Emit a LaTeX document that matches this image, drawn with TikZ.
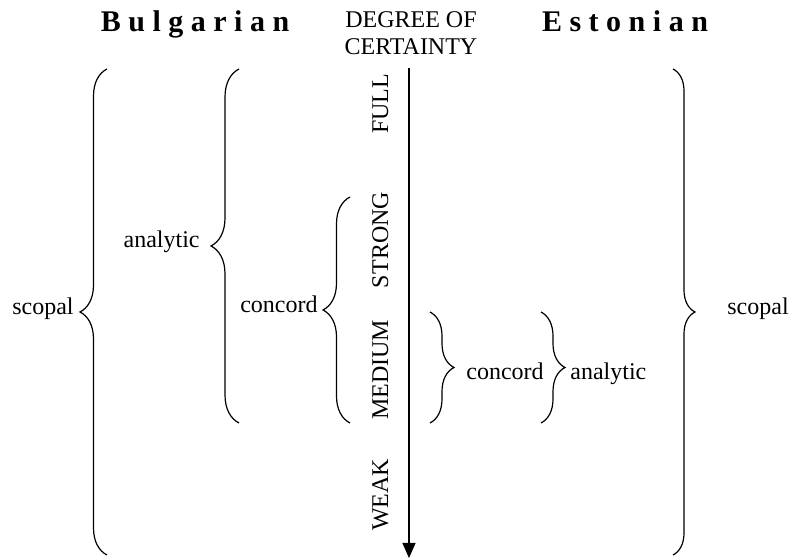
\documentclass[tikz,border=0pt]{standalone}
\usepackage{fontspec}
\setmainfont{Liberation Serif}
\usetikzlibrary{positioning, calc, decorations.pathreplacing, arrows.meta}

\begin{document}
\begin{tikzpicture}[x=0.5pt, y=-0.5pt, lbl/.style={font=\fontsize{12}{13.5}\selectfont, inner sep=0pt}, lang/.style={font=\fontsize{15}{18}\selectfont\bfseries, inner sep=0pt, anchor=base}, level/.style={lbl, rotate=90, anchor=base}, brc/.style={decorate, decoration={brace, amplitude=#1}, line width=0.6pt}]
\useasboundingbox (0,0) rectangle (793,560);
\node (bg) [lang] at (195,32) {B u l g a r i a n};
\node (et) [lang] at (625,32) {E s t o n i a n};
\node (deg) [lbl, align=center, anchor=north] at (411,11.5) {DEGREE OF\\CERTAINTY};
\node (full) [level] at (388,104) {FULL};
\node (strong) [level] at (388,240) {STRONG};
\node (medium) [level] at (388,370) {MEDIUM};
\node (weak) [level] at (388,495) {WEAK};
\coordinate (ax-top) at (409,68);
\coordinate (ax-end) at (409,558);
\draw [-{Triangle[length=7.5pt,width=6.5pt]}, line width=0.6pt] (ax-top) -- (ax-end);
% Bulgarian side
\coordinate (scL-a) at (107,555);
\coordinate (scL-b) at (107,69);
\coordinate (anL-a) at (239,423);
\coordinate (anL-b) at (239,69);
\coordinate (coL-a) at (350,423);
\coordinate (coL-b) at (350,197);
\draw [brc=13.5pt] (scL-a) -- (scL-b);
\draw [brc=14pt] (anL-a) -- (anL-b);
\draw [brc=13.5pt] (coL-a) -- (coL-b);
\node (scL) [lbl, anchor=base east] at (74,315) {scopal};
\node (anL) [lbl, anchor=base east] at (200,248) {analytic};
\node (coL) [lbl, anchor=base east] at (318,313) {concord};
% Estonian side
\coordinate (coR-a) at (430,312);
\coordinate (coR-b) at (430,423);
\coordinate (anR-a) at (541,312);
\coordinate (anR-b) at (541,423);
\coordinate (scR-a) at (673,69);
\coordinate (scR-b) at (673,555);
\draw [brc=12pt] (coR-a) -- (coR-b);
\draw [brc=12pt] (anR-a) -- (anR-b);
\draw [brc=11pt] (scR-a) -- (scR-b);
\node (coR) [lbl, anchor=base west] at (466,380) {concord};
\node (anR) [lbl, anchor=base west] at (570,380) {analytic};
\node (scR) [lbl, anchor=base west] at (727,315) {scopal};
\end{tikzpicture}
\end{document}
